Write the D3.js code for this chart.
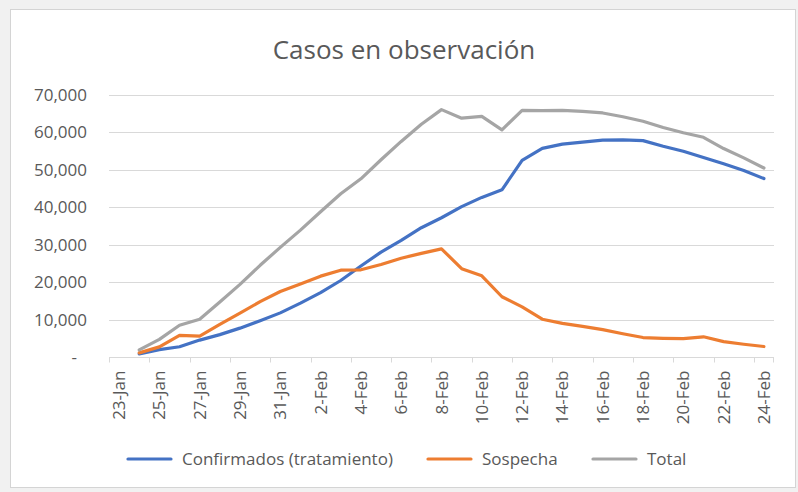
<!DOCTYPE html>
<html>
<head>
<meta charset="utf-8">
<script src="https://cdn.jsdelivr.net/npm/d3@7"></script>
<style>
  html, body { margin: 0; padding: 0; background: #f1f1f1; }
  svg { display: block; }
</style>
</head>
<body>
<div id="chart"></div>
<script>
// Casos en observación: Excel-style line chart, one category per day.

const W = 798;
const H = 492;

const days = [
  '23-Jan', '24-Jan', '25-Jan', '26-Jan', '27-Jan', '28-Jan', '29-Jan', '30-Jan', '31-Jan',
  '1-Feb', '2-Feb', '3-Feb', '4-Feb', '5-Feb', '6-Feb', '7-Feb', '8-Feb', '9-Feb', '10-Feb',
  '11-Feb', '12-Feb', '13-Feb', '14-Feb', '15-Feb', '16-Feb', '17-Feb', '18-Feb', '19-Feb',
  '20-Feb', '21-Feb', '22-Feb', '23-Feb', '24-Feb'
];

// values start on 24-Jan (23-Jan is an empty category on the axis)
const confirmados = [
  null, 830, 1975, 2744, 4515, 5974, 7711, 9692, 11791,
  14380, 17205, 20438, 24324, 28018, 31161, 34546, 37198, 40171, 42638,
  44653, 52526, 55748, 56873, 57416, 57934, 58016, 57805, 56303,
  54965, 53284, 51606, 49824, 47672
];
const sospecha = [
  null, 1100, 2700, 5800, 5600, 8700, 11700, 14800, 17500,
  19500, 21600, 23200, 23300, 24700, 26400, 27700, 28900, 23600, 21700,
  16100, 13400, 10100, 9000, 8200, 7300, 6200, 5200, 5000,
  4900, 5400, 4100, 3400, 2800
];
const total = [
  null, 1900, 4700, 8500, 10100, 14700, 19400, 24500, 29300,
  33900, 38800, 43600, 47600, 52700, 57600, 62200, 66100, 63800, 64300,
  60700, 65900, 65800, 65900, 65600, 65200, 64200, 63000, 61300,
  59900, 58700, 55700, 53200, 50500
];

const yTicks = [0, 10000, 20000, 30000, 40000, 50000, 60000, 70000];

const series = [
  { name: 'Confirmados (tratamiento)', values: confirmados, color: '#4472C4' },
  { name: 'Sospecha', values: sospecha, color: '#ED7D31' },
  { name: 'Total', values: total, color: '#A5A5A5' },
];

const FONT = 'Open Sans, Noto Sans, sans-serif';
const TEXT = '#595959';
const GRID = '#d9d9d9';

const plot = { left: 109, right: 774, top: 95, bottom: 357 };

const svg = d3.select('#chart').append('svg')
  .attr('width', W).attr('height', H)
  .attr('viewBox', `0 0 ${W} ${H}`);

// chart frame (white area with thin border)
svg.append('rect')
  .attr('x', 10.5).attr('y', 9.5)
  .attr('width', 785).attr('height', 478)
  .attr('fill', '#fff')
  .attr('stroke', '#d4d4d4');

const x = d3.scaleBand().domain(days).range([plot.left, plot.right]).padding(0);
const y = d3.scaleLinear().domain([0, 70000]).range([plot.bottom, plot.top]);
const cx = d => x(d) + x.bandwidth() / 2;

// title
svg.append('text')
  .attr('x', 404).attr('y', 59)
  .attr('text-anchor', 'middle')
  .attr('font-family', FONT).attr('font-size', 26)
  .attr('fill', TEXT)
  .text('Casos en observación');

// gridlines
svg.append('g')
  .selectAll('line')
  .data(yTicks.filter(v => v > 0))
  .join('line')
  .attr('x1', plot.left).attr('x2', plot.right)
  .attr('y1', d => Math.round(y(d)) + 0.5).attr('y2', d => Math.round(y(d)) + 0.5)
  .attr('stroke', GRID).attr('stroke-width', 1);

// y labels (accounting format: 0 shows as "-")
const fmt = d3.format(',');
svg.append('g')
  .selectAll('text')
  .data(yTicks)
  .join('text')
  .attr('x', d => d === 0 ? 77 : 87)
  .attr('y', d => y(d) + 6)
  .attr('text-anchor', 'end')
  .attr('font-family', FONT).attr('font-size', 17)
  .attr('fill', TEXT)
  .text(d => d === 0 ? '-' : fmt(d));

// x axis line and tick marks every two categories
const xAxis = svg.append('g').attr('transform', `translate(0,${Math.round(plot.bottom) + 0.5})`);
xAxis.append('line')
  .attr('x1', plot.left).attr('x2', plot.right)
  .attr('stroke', GRID);
xAxis.selectAll('line.tick')
  .data(days.filter((d, i) => i % 2 === 0))
  .join('line')
  .attr('class', 'tick')
  .attr('x1', d => Math.round(x(d)) + 0.5).attr('x2', d => Math.round(x(d)) + 0.5)
  .attr('y1', 0).attr('y2', 5)
  .attr('stroke', GRID);
xAxis.append('line')
  .attr('x1', plot.right - 0.5).attr('x2', plot.right - 0.5)
  .attr('y1', 0).attr('y2', 5)
  .attr('stroke', GRID);

xAxis.selectAll('text')
  .data(days.filter((d, i) => i % 2 === 0))
  .join('text')
  .attr('transform', d => `translate(${cx(d) + 6},13) rotate(-90)`)
  .attr('text-anchor', 'end')
  .attr('font-family', FONT).attr('font-size', 17)
  .attr('fill', TEXT)
  .text(d => d);

// lines
const line = d3.line()
  .defined(d => d.v != null)
  .x(d => cx(d.day))
  .y(d => y(d.v));

svg.append('g')
  .selectAll('path')
  .data(series)
  .join('path')
  .attr('fill', 'none')
  .attr('stroke', d => d.color)
  .attr('stroke-width', 3.2)
  .attr('stroke-linejoin', 'round')
  .attr('stroke-linecap', 'round')
  .attr('d', s => line(s.values.map((v, i) => ({ day: days[i], v }))));

// legend
const legendPos = [128, 428, 593];
const legend = svg.append('g')
  .selectAll('g')
  .data(series)
  .join('g')
  .attr('transform', (d, i) => `translate(${legendPos[i]},459)`);
legend.append('line')
  .attr('x1', 0).attr('x2', 43)
  .attr('stroke', d => d.color).attr('stroke-width', 3.2)
  .attr('stroke-linecap', 'round');
legend.append('text')
  .attr('x', 54).attr('y', 6)
  .attr('font-family', FONT).attr('font-size', 17)
  .attr('fill', TEXT)
  .text(d => d.name);
</script>
</body>
</html>
